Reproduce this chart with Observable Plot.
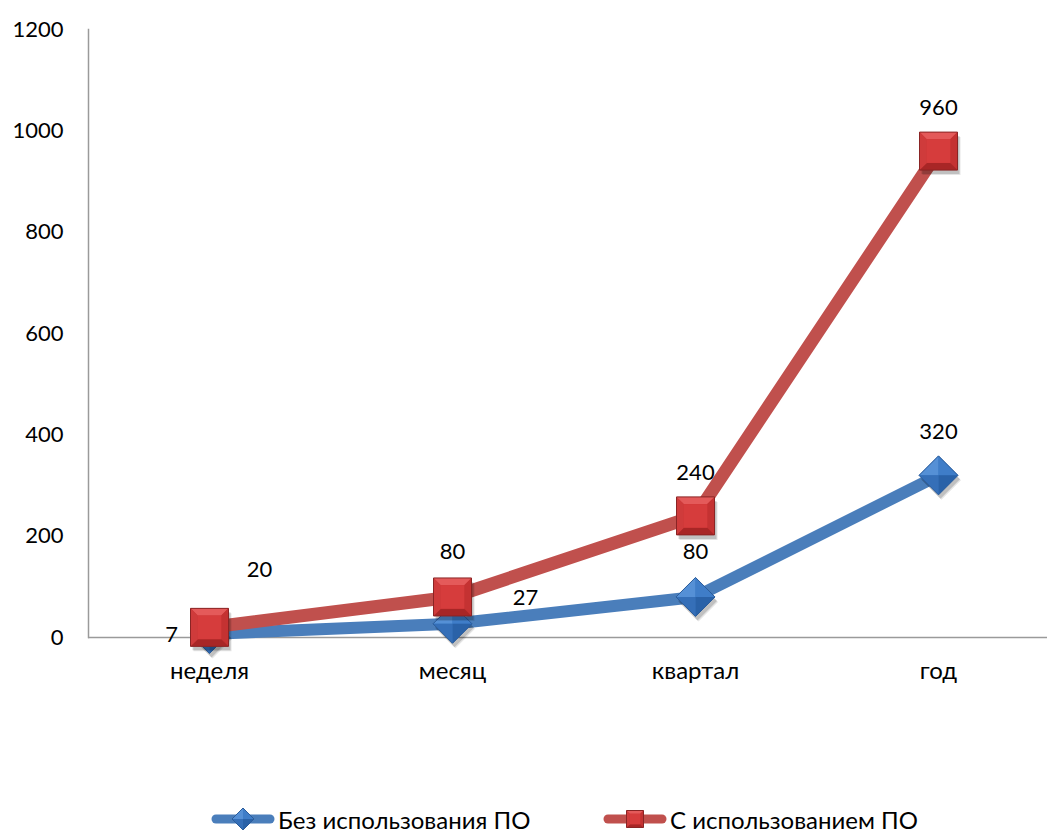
<!DOCTYPE html>
<html>
<head>
<meta charset="utf-8">
<script src="https://cdn.jsdelivr.net/npm/d3@7"></script>
<script src="https://cdn.jsdelivr.net/npm/@observablehq/plot@0.6"></script>
<style>
  body { margin: 0; background: #fff; font-family: Lato, "Noto Sans", sans-serif; }
  #chart svg { display: block; }
  #legend { position: relative; width: 1047px; height: 43px; font-size: 24px; color: #000; }
  #legend .item { position: absolute; top: 14px; height: 30px; display: flex; align-items: center; white-space: nowrap; }
  #legend svg { display: block; margin-right: 2px; }
</style>
</head>
<body>
<div id="chart"></div>
<div id="legend"></div>
<script>
// Time periods and processed volumes for the two approaches
const periods = ["неделя", "месяц", "квартал", "год"];
const withoutSoftware = [7, 27, 80, 320];
const withSoftware = [20, 80, 240, 960];
const seriesNames = ["Без использования ПО", "С использованием ПО"];
const yTicks = [0, 200, 400, 600, 800, 1000, 1200];

// Label placement (pixel offsets from each point), per series
const labelShift = {
  blue: [[-38, 1], [73, -26], [0, -45], [0, -43]],
  red: [[50, -57], [0, -45], [0, -43], [0, -43]]
};

const blueRows = periods.map((p, i) => ({period: p, value: withoutSoftware[i]}));
const redRows = periods.map((p, i) => ({period: p, value: withSoftware[i]}));

// A symbol that draws a single polygon in units of the dot radius
function facet(points) {
  return {
    draw(ctx, size) {
      const r = Math.sqrt(size / Math.PI);
      points.forEach(([x, y], i) => (i ? ctx.lineTo(x * r, y * r) : ctx.moveTo(x * r, y * r)));
      ctx.closePath();
    }
  };
}

// Bevelled square (red markers)
const k = 0.62;
const squareOuter = [[-1, -1], [1, -1], [1, 1], [-1, 1]];
const squareFaces = [
  [squareOuter, "#c93535"],
  [[[-1, -1], [1, -1], [k, -k], [-k, -k]], "#e45a5a"],
  [[[1, -1], [1, 1], [k, k], [k, -k]], "#c43232"],
  [[[-1, 1], [1, 1], [k, k], [-k, k]], "#a82626"],
  [[[-1, -1], [-k, -k], [-k, k], [-1, 1]], "#cf3b3b"],
  [[[-k, -k], [k, -k], [k, k], [-k, k]], "#d63c3c"]
];
// Pyramid diamond (blue markers)
const diamondOuter = [[0, -1], [1, 0], [0, 1], [-1, 0]];
const diamondFaces = [
  [diamondOuter, "#3a78c2"],
  [[[0, -1], [-1, 0], [0, 0]], "#5590d6"],
  [[[0, -1], [1, 0], [0, 0]], "#3f7dc8"],
  [[[-1, 0], [0, 1], [0, 0]], "#356fb8"],
  [[[1, 0], [0, 1], [0, 0]], "#2a62a8"]
];

function markerMarks(data, outer, faces, r, edge) {
  return [
    Plot.dot(data, {x: "period", y: "value", symbol: facet(outer), r, fill: "rgba(0,0,0,0.16)", dx: 2, dy: 4}),
    Plot.dot(data, {x: "period", y: "value", symbol: facet(outer), r, fill: "rgba(0,0,0,0.10)", dx: 3, dy: 5}),
    ...faces.map(([pts, fill]) => Plot.dot(data, {x: "period", y: "value", symbol: facet(pts), r, fill})),
    Plot.dot(data, {x: "period", y: "value", symbol: facet(outer), r, fill: "none", stroke: edge, strokeWidth: 1})
  ];
}

const blue = "#4a7ebb";
const red = "#c0504d";

const chart = Plot.plot({
  width: 1047,
  height: 790,
  marginTop: 29,
  marginBottom: 153,
  marginLeft: 88,
  marginRight: 0,
  style: {fontFamily: "Lato, 'Noto Sans', sans-serif", fontSize: "22px", color: "#000", background: "#fff", overflow: "visible"},
  x: {type: "point", domain: periods, range: [208, 938], padding: 0, label: null},
  y: {domain: [0, 1200], label: null},
  marks: [
    Plot.axisY({ticks: yTicks, tickSize: 0, tickPadding: 25, tickFormat: (d) => String(d), label: null}),
    Plot.axisX({tickSize: 0, tickPadding: 24, label: null, fontSize: 24}),
    Plot.frame({anchor: "left", stroke: "#9a9a9a", strokeWidth: 1.5}),
    Plot.ruleY([0], {stroke: "#9a9a9a", strokeWidth: 1.5}),
    Plot.line(blueRows, {x: "period", y: "value", stroke: blue, strokeWidth: 12, strokeLinejoin: "round"}),
    ...markerMarks(blueRows, diamondOuter, diamondFaces, 19.5, "#2b5c9a"),
    Plot.line(redRows, {x: "period", y: "value", stroke: red, strokeWidth: 13, strokeLinejoin: "round"}),
    ...markerMarks(redRows, squareOuter, squareFaces, 19, "#8a2424"),
    Plot.text(blueRows, {x: "period", y: "value", text: "value", fill: "#000"}),
    Plot.text(redRows, {x: "period", y: "value", text: "value", fill: "#000"})
  ]
});
document.getElementById("chart").append(chart);

// Per-label offsets: nudge each value label away from its marker
const textGroups = chart.querySelectorAll('g[aria-label="text"]');
[[textGroups[0], labelShift.blue], [textGroups[1], labelShift.red]].forEach(([g, shifts]) => {
  if (!g) return;
  g.querySelectorAll("text").forEach((t, i) => {
    const [dx, dy] = shifts[i];
    const base = t.getAttribute("transform") || "";
    t.setAttribute("transform", `${base} translate(${dx},${dy})`);
  });
});

// Legend below the chart
function polyPath(points, r, cx, cy) {
  return "M" + points.map(([x, y]) => `${cx + x * r},${cy + y * r}`).join("L") + "Z";
}
const legendItems = [
  {name: seriesNames[0], color: blue, outer: diamondOuter, faces: diamondFaces, r: 11, edge: "#2b5c9a", left: 210},
  {name: seriesNames[1], color: red, outer: squareOuter, faces: squareFaces, r: 8.5, edge: "#8a2424", left: 602}
];
const legend = d3.select("#legend");
legendItems.forEach((item) => {
  const div = legend.append("div").attr("class", "item").style("left", item.left + "px");
  const s = div.append("svg").attr("width", 66).attr("height", 26);
  s.append("line").attr("x1", 6).attr("x2", 60).attr("y1", 13).attr("y2", 13)
    .attr("stroke", item.color).attr("stroke-width", 9).attr("stroke-linecap", "round");
  item.faces.forEach(([pts, fill]) => s.append("path").attr("d", polyPath(pts, item.r, 33, 13)).attr("fill", fill));
  s.append("path").attr("d", polyPath(item.outer, item.r, 33, 13)).attr("fill", "none").attr("stroke", item.edge);
  div.append("span").text(item.name);
});
</script>
</body>
</html>
